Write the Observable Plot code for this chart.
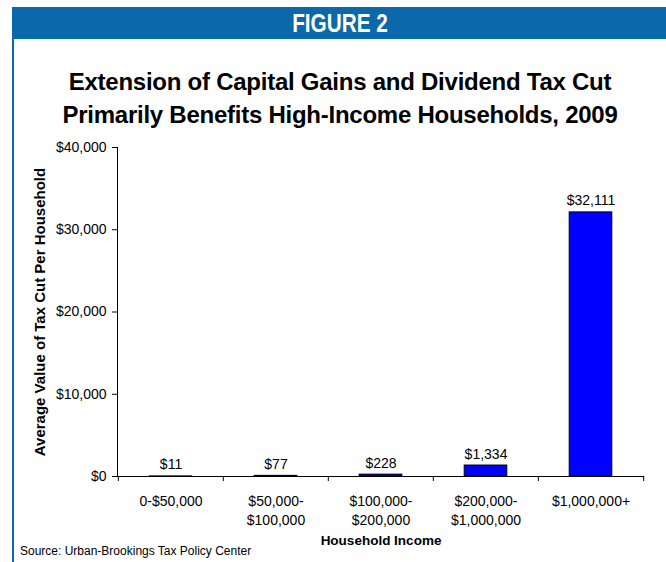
<!DOCTYPE html>
<html><head><meta charset="utf-8">
<script src="https://cdn.jsdelivr.net/npm/d3@7"></script>
<script src="https://cdn.jsdelivr.net/npm/@observablehq/plot@0.6"></script>
<style>
html,body{margin:0;padding:0;background:#fff;}
#wrap{position:relative;width:666px;height:562px;overflow:hidden;font-family:"Liberation Sans",Arial,sans-serif;}
#band{position:absolute;left:12px;top:7px;width:654px;height:32px;background:#0A68AB;}
#band span{position:absolute;left:0;width:654px;text-align:center;color:#fff;font:bold 25px "Liberation Sans",Arial,sans-serif;line-height:32px;transform:scaleX(0.83);transform-origin:333px 50%;}
#vline{position:absolute;left:12px;top:7px;width:2px;height:560px;background:#0A68AB;}
#title{position:absolute;left:14px;width:652px;top:65px;text-align:center;font-weight:bold;font-size:24px;line-height:33px;letter-spacing:-0.25px;color:#000;}
#source{position:absolute;left:20px;top:544px;font-size:12px;color:#000;}
#chart{position:absolute;left:0;top:0;}
</style></head>
<body><div id="wrap">
<div id="vline"></div>
<div id="band"><span>FIGURE 2</span></div>
<div id="title">Extension of Capital Gains and Dividend Tax Cut<br>Primarily Benefits High-Income Households, 2009</div>
<div id="chart"></div>
<div id="source">Source: Urban-Brookings Tax Policy Center</div>
</div>
<script>
const categories = ["0-$50,000", "$50,000-\n$100,000", "$100,000-\n$200,000", "$200,000-\n$1,000,000", "$1,000,000+"];
const values = [11, 77, 228, 1334, 32111];
const yTicks = [0, 10000, 20000, 30000, 40000];
const data = categories.map((c, i) => ({cat: c, value: values[i]}));

const W = 666, H = 562, mL = 117, mR = 22, mT = 147, mB = 86;
const xs = Plot.scale({x: {type: "band", domain: categories, range: [mL, W - mR], padding: 0}});
const bw = xs.bandwidth;
const tickLen = 5 * 40000 / (H - mT - mB);
const fmt = d3.format("$,");

const chart = Plot.plot({
  width: W, height: H,
  marginLeft: mL, marginRight: mR, marginTop: mT, marginBottom: mB,
  style: {fontFamily: "'Liberation Sans', Arial, sans-serif", fontSize: "14px", color: "#000", background: "transparent"},
  x: {domain: categories, padding: 0},
  y: {domain: [0, 40000]},
  marks: [
    Plot.barY(data, {x: "cat", y: "value", fill: "#0000FF", stroke: "#000", strokeWidth: 1, insetLeft: bw * 0.296, insetRight: bw * 0.296}),
    Plot.ruleY([0], {stroke: "#000"}),
    Plot.frame({anchor: "left", stroke: "#000"}),
    Plot.ruleX(categories, {x: d => d, dx: -bw / 2, y1: 0, y2: -tickLen, stroke: "#000"}),
    Plot.ruleX([categories[categories.length - 1]], {x: d => d, dx: bw / 2, y1: 0, y2: -tickLen, stroke: "#000"}),
    Plot.text(data, {x: "cat", y: "value", text: d => fmt(d.value), dy: -7, lineAnchor: "bottom", fontSize: 14}),
    Plot.axisY({ticks: yTicks, tickFormat: d => fmt(d), tickSize: 5, tickPadding: 6, fontSize: 14,
      label: "Average Value of Tax Cut Per Household", labelAnchor: "center", labelArrow: "none", labelOffset: 83}),
    Plot.axisX({tickSize: 0, tickPadding: 16, fontSize: 14, lineHeight: 1.36,
      label: "Household Income", labelAnchor: "center", labelArrow: "none", labelOffset: 68})
  ]
});
d3.select(chart).selectAll("[aria-label='y-axis label'] text").attr("font-weight", "bold").attr("font-size", 15);
d3.select(chart).selectAll("[aria-label='x-axis label'] text").attr("font-weight", "bold").attr("font-size", 13.5);
document.getElementById("chart").appendChild(chart);
</script>
</body></html>
